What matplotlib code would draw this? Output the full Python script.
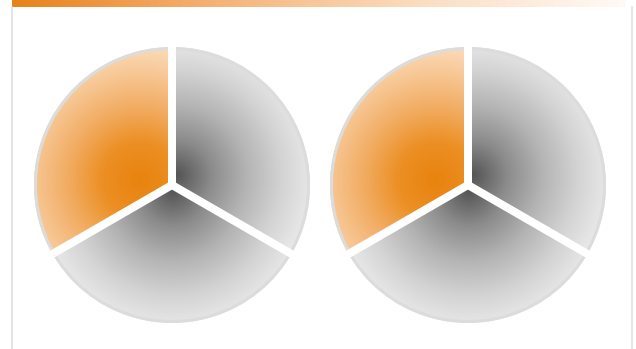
import numpy as np
import matplotlib.pyplot as plt
from matplotlib.colors import LinearSegmentedColormap
from matplotlib.patches import Circle

W, H = 636, 349

# two identical pies, three equal slices each (orange, bottom grey, right grey)
left_values = [1, 1, 1]
right_values = [1, 1, 1]
pie_centers = [(172, 185), (468, 185)]   # pixel coords, y down
radius = 138

orange = LinearSegmentedColormap.from_list(
    'orange', ['#E8830E', '#EC8F24', '#F2AE66', '#F8CB9C', '#FDE6CF'])
grey = LinearSegmentedColormap.from_list(
    'grey', ['#555555', '#8c8c8c', '#b4b4b4', '#d3d3d3', '#ebebeb'])
slice_cmaps = [orange, grey, grey]
grad_offsets = [(-32, -5), (1, 6), (5, -10)]   # gradient centre vs pie centre
grad_radius = [150, 140, 140]


def px(n):
    return n * 0.72


fig = plt.figure(figsize=(6.36, 3.49), dpi=100)
ax = fig.add_axes([0, 0, 1, 1])

for values, (cx, cy) in zip([left_values, right_values], pie_centers):
    cy = H - cy
    wedges, _ = ax.pie(values, center=(cx, cy), radius=radius, startangle=90,
                       counterclock=True,
                       wedgeprops=dict(facecolor='none', edgecolor='none'))
    x0, x1 = cx - radius - 3, cx + radius + 3
    y0, y1 = cy - radius - 3, cy + radius + 3
    xs, ys = np.meshgrid(np.linspace(x0, x1, 400), np.linspace(y0, y1, 400))
    for w, cmap, off, R in zip(wedges, slice_cmaps, grad_offsets, grad_radius):
        gx, gy = cx + off[0], cy - off[1]
        d = np.clip(np.hypot(xs - gx, ys - gy) / R, 0, 1)
        im = ax.imshow(d, cmap=cmap, vmin=0, vmax=1, origin='lower',
                       extent=(x0, x1, y0, y1), interpolation='bilinear', zorder=1)
        im.set_clip_path(w)
    ax.add_patch(Circle((cx, cy), radius - 1.5, fill=False, ec='#dcdcdc',
                        lw=px(3), zorder=2))
    # white gaps between slices
    bounds = 90 + np.cumsum([0] + values[:-1]) / sum(values) * 360
    for a in np.radians(bounds):
        ax.plot([cx, cx + (radius + 6) * np.cos(a)],
                [cy, cy + (radius + 6) * np.sin(a)],
                color='white', lw=px(8), solid_capstyle='butt', zorder=3)

# top orange bar
bar = np.linspace(0, 1, 256)[None, :]
bar_cmap = LinearSegmentedColormap.from_list('bar', ['#E8821A', '#F4B377', '#FBDDC2', '#FFFAF6'])
ax.imshow(bar, cmap=bar_cmap, aspect='auto', extent=(12, 626, H - 7, H), zorder=1)

# frame lines
ax.plot([12, 12], [0, H - 7], color='#dddddd', lw=px(1.5), zorder=1)
ax.plot([632, 632], [0, H - 7], color='#dddddd', lw=px(1.5), zorder=1)

ax.set_xlim(0, W)
ax.set_ylim(0, H)
ax.set_aspect('auto')
ax.axis('off')

fig.savefig('out.png', dpi=100)
